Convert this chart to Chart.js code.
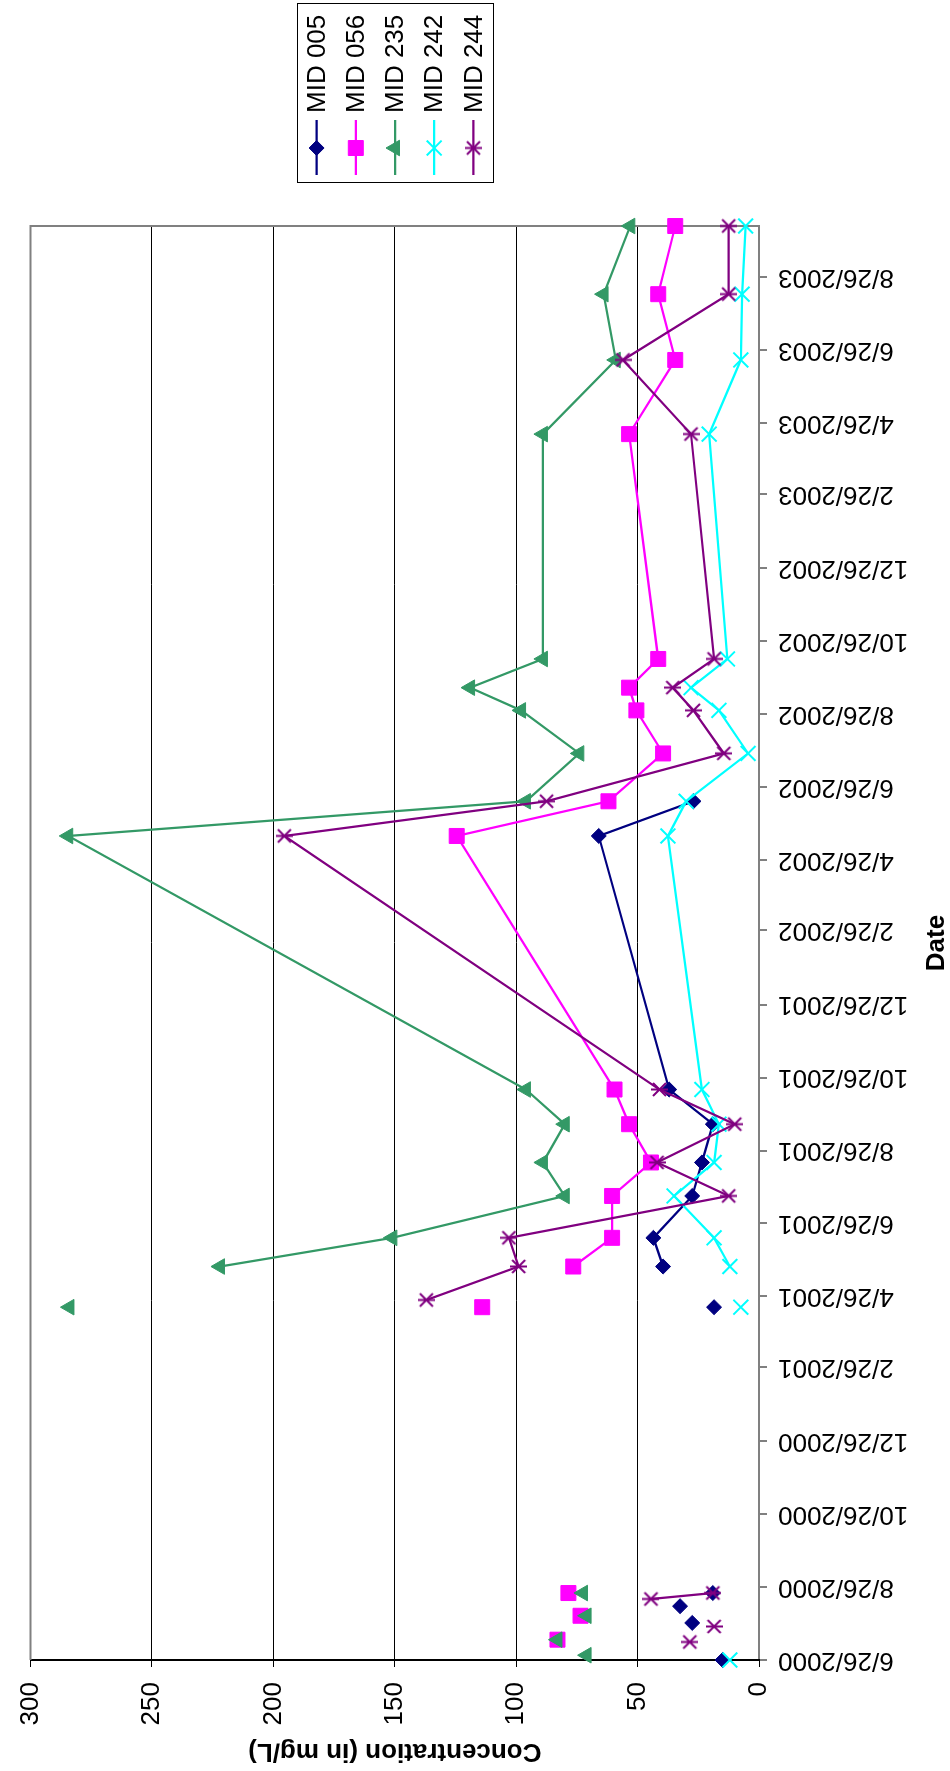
<!DOCTYPE html>
<html>
<head>
<meta charset="utf-8">
<script src="https://cdn.jsdelivr.net/npm/chart.js@4.4.0/dist/chart.umd.min.js"></script>
<style>
html, body { margin: 0; padding: 0; background: #fff; }
#wrap { position: relative; width: 950px; height: 1771px; overflow: hidden; }
/* the chart is drawn landscape and turned a quarter turn left */
#chart { position: absolute; left: 0; top: 0; transform-origin: 0 0; transform: translate(0, 1771px) rotate(-90deg); }
</style>
</head>
<body>
<div id="wrap"><canvas id="chart" width="1771" height="950"></canvas></div>
<script>
// sample dates (one row per date, blank = not sampled)
const dates = [
  '6/26/2000', '6/30/2000', '7/11/2000', '7/13/2000', '7/24/2000', '7/27/2000', '8/2/2000', '8/10/2000', '8/16/2000', '8/21/2000',
  '1/26/2001',
  '4/17/2001', '4/23/2001', '5/21/2001', '6/14/2001', '7/19/2001', '8/16/2001', '9/17/2001', '10/16/2001',
  '5/16/2002', '6/14/2002', '7/24/2002', '8/29/2002', '9/17/2002', '10/11/2002',
  '4/17/2003', '6/18/2003', '8/12/2003', '10/8/2003'
];

const mid005 = [15, null, null, null, null, 27.5, null, 32.5, null, 19,
  null,
  18.5, null, 39.5, 43.5, 27.5, 23.5, 19, 37,
  66, 27, null, null, null, null,
  null, null, null, null];
const mid056 = [null, null, null, 83, null, null, 73.5, null, null, 78.5,
  null,
  114, null, 76.5, 60.5, 60.5, 44.5, 53.5, 59.5,
  124.5, 62, 39.5, 50.5, 53.5, 41.5,
  53.5, 34.5, 41.5, 34.5];
const mid235 = [null, 71, null, 83, null, null, 71, null, null, 72.5,
  null,
  284, null, 222, 151, 80, 89, 80, 96,
  284.5, 96, 74, 98, 119, 89,
  89, 59, 64, 53];
const mid242 = [12, null, null, null, null, null, null, null, null, null,
  null,
  7.5, null, 12, 18.5, 35, 18.5, 16.5, 23.5,
  37.5, 30, 4.5, 16.5, 28, 13,
  20.5, 7.5, 7, 5.5];
const mid244 = [null, null, 28.5, null, 18.5, null, null, null, 44.5, 19,
  null,
  null, 137, 99, 103, 12.5, 42, 10, 41,
  195.5, 87.5, 14.5, 27, 35.5, 18.5,
  28, 56, 12.5, 12.5];

const dateTicks = [
  '6/26/2000', '8/26/2000', '10/26/2000', '12/26/2000', '2/26/2001', '4/26/2001', '6/26/2001',
  '8/26/2001', '10/26/2001', '12/26/2001', '2/26/2002', '4/26/2002', '6/26/2002', '8/26/2002',
  '10/26/2002', '12/26/2002', '2/26/2003', '4/26/2003', '6/26/2003', '8/26/2003'
];
const valueTicks = [0, 50, 100, 150, 200, 250, 300];

function dayNum(s) {
  const [m, d, y] = s.split('/').map(Number);
  return Date.UTC(y, m - 1, d) / 86400000;
}
function dayLabel(n) {
  const i = dateTicks.findIndex(t => dayNum(t) === n);
  return i >= 0 ? dateTicks[i] : '';
}

// excel style star: an x with a bar through it
function starMarker(color) {
  const c = document.createElement('canvas');
  c.width = 17; c.height = 17;
  const g = c.getContext('2d');
  g.strokeStyle = color;
  g.lineWidth = 2;
  g.beginPath();
  g.moveTo(2, 2); g.lineTo(15, 15);
  g.moveTo(15, 2); g.lineTo(2, 15);
  g.moveTo(8.5, 0); g.lineTo(8.5, 17);
  g.stroke();
  return c;
}

function series(label, values, color, style, radius, order) {
  return {
    label: label,
    data: dates.map((d, i) => ({x: dayNum(d), y: values[i]})),
    borderColor: color,
    backgroundColor: color,
    borderWidth: 2.25,
    pointStyle: style,
    pointRadius: radius,
    pointBackgroundColor: color,
    pointBorderColor: color,
    pointBorderWidth: style === 'crossRot' ? 2 : 1,
    spanGaps: false,
    tension: 0,
    clip: false,
    order: order,
  };
}

const plotFrame = {
  id: 'plotFrame',
  beforeDatasetsDraw(chart) {
    const {ctx, chartArea: a} = chart;
    ctx.save();
    ctx.strokeStyle = '#808080';
    ctx.lineWidth = 2;
    ctx.beginPath();
    ctx.moveTo(a.left, a.top);
    ctx.lineTo(a.right, a.top);
    ctx.lineTo(a.right, a.bottom);
    ctx.stroke();
    ctx.restore();
  }
};

const boxedLegend = {
  id: 'boxedLegend',
  afterDraw(chart) {
    const {ctx, chartArea: a} = chart;
    const sets = chart.data.datasets;
    const rowH = 39.2;
    const left = Math.round(a.right + 43);
    const width = 179;
    const height = Math.round(sets.length * rowH);
    const top = Math.round((a.top + a.bottom) / 2 - height / 2);
    ctx.save();
    ctx.fillStyle = '#fff';
    ctx.fillRect(left, top, width, height);
    ctx.strokeStyle = '#000';
    ctx.lineWidth = 1;
    ctx.strokeRect(left + 0.5, top + 0.5, width, height);
    ctx.font = '26px "Liberation Sans", Arial, sans-serif';
    ctx.textBaseline = 'middle';
    sets.forEach((ds, i) => {
      const y = top + rowH * (i + 0.5);
      ctx.strokeStyle = ds.borderColor;
      ctx.lineWidth = ds.borderWidth;
      ctx.beginPath();
      ctx.moveTo(left + 8, y);
      ctx.lineTo(left + 63, y);
      ctx.stroke();
      ctx.fillStyle = ds.pointBackgroundColor;
      ctx.strokeStyle = ds.pointBorderColor;
      ctx.lineWidth = ds.pointBorderWidth;
      Chart.helpers.drawPoint(ctx, {pointStyle: ds.pointStyle, radius: ds.pointRadius, borderWidth: ds.pointBorderWidth, rotation: 0}, left + 35, y);
      ctx.fillStyle = '#000';
      ctx.fillText(ds.label, left + 70, y + 1);
    });
    ctx.restore();
  }
};

Chart.defaults.font.family = '"Liberation Sans", Arial, sans-serif';
Chart.defaults.font.size = 26;
Chart.defaults.color = '#000';

new Chart(document.getElementById('chart'), {
  type: 'line',
  data: {
    datasets: [
      series('MID 005', mid005, '#000080', 'rectRot', 7.5, 5),
      series('MID 056', mid056, '#FF00FF', 'rect', 10.6, 4),
      series('MID 235', mid235, '#339966', 'triangle', 9, 3),
      series('MID 242', mid242, '#00FFFF', 'crossRot', 10.5, 2),
      series('MID 244', mid244, '#800080', starMarker('#800080'), 8, 1),
    ]
  },
  options: {
    responsive: false,
    animation: false,
    events: [],
    layout: {padding: {left: 0, right: 226, top: 25, bottom: 0}},
    scales: {
      x: {
        type: 'linear',
        min: dayNum(dates[0]),
        max: dayNum(dates[dates.length - 1]),
        afterBuildTicks: (axis) => { axis.ticks = dateTicks.map(t => ({value: dayNum(t)})); },
        afterFit: (scale) => { scale.height = 191; },
        ticks: {
          autoSkip: false,
          minRotation: 90,
          maxRotation: 90,
          padding: 11,
          callback: (v) => dayLabel(v),
        },
        grid: {drawOnChartArea: false, tickLength: 8, color: '#808080', lineWidth: 2},
        border: {color: '#808080', width: 2},
        title: {display: true, text: 'Date', font: {weight: 'bold'}, padding: {top: 0, bottom: -2}},
      },
      y: {
        min: valueTicks[0],
        max: valueTicks[valueTicks.length - 1],
        afterBuildTicks: (axis) => { axis.ticks = valueTicks.map(v => ({value: v})); },
        afterFit: (scale) => { scale.width = 111; },
        ticks: {padding: 15},
        grid: {color: '#000', lineWidth: 1, tickLength: 7},
        border: {color: '#000', width: 2},
        title: {display: true, text: 'Concentration (in mg/L)', font: {weight: 'bold'}, padding: {top: 4, bottom: 0}},
      }
    },
    plugins: {
      legend: {display: false},
      tooltip: {enabled: false},
    }
  },
  plugins: [plotFrame, boxedLegend]
});
</script>
</body>
</html>
